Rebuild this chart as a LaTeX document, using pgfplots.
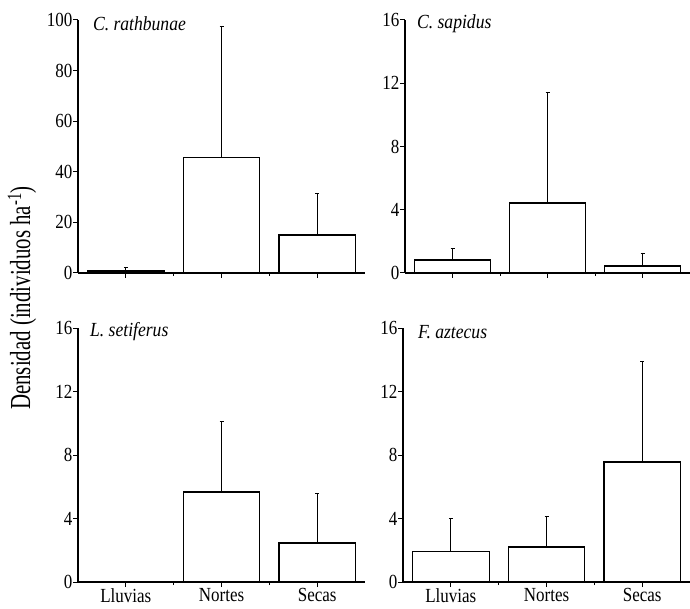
\documentclass[border=0pt]{standalone}
\usepackage{fontspec}
\setmainfont{Liberation Serif}
\newfontfamily\tickfont{Liberation Serif}[FakeStretch=0.85]
\newfontfamily\titlefont{Liberation Serif}[FakeStretch=0.88]
\newfontfamily\labfont{Liberation Serif}[FakeStretch=0.72]
\usepackage{pgfplots}
\pgfplotsset{compat=1.18}
\pgfplotsset{
  panel/.style={
    scale only axis, clip=false,
    xmin=-0.5, xmax=2.5, ymin=0,
    axis x line*=bottom, axis y line*=left,
    axis line style={line width=1.3pt},
    xtick={0,1,2}, minor xtick={0.5,1.5},
    tick align=outside,
    major tick length=5pt, minor tick length=3pt,
    tick style={line width=1pt, black},
    /pgf/number format/assume math mode=true,
    ticklabel style={font=\tickfont\fontsize{20}{21}\selectfont},
    yticklabel style={inner sep=0.5pt},
    xticklabel style={inner sep=1pt},
    ybar, bar width=0.8,
  },
  bars/.style={
    draw=black, fill=white, line width=1.2pt,
    error bars/.cd, y dir=plus, y explicit,
    error bar style={line width=0.8pt, black},
    error mark options={rotate=90, mark size=2pt, line width=0.8pt},
  },
}
\begin{document}
\begin{tikzpicture}[x=1pt,y=1pt]
\useasboundingbox (0,0) rectangle (690,608);
% top left
\begin{axis}[panel, at={(78pt,335pt)}, anchor=south west,
  width=287pt, height=253pt, ymax=100, ytick={0,20,40,60,80,100},
  xticklabels={}]
\addplot[bars] coordinates {(0,0.8) +- (0,1.6) (1,45.5) +- (0,52.1) (2,15.0) +- (0,16.6)};
\node[anchor=west, font=\titlefont\itshape\fontsize{20}{22}\selectfont] at (rel axis cs:0.04,0.985) {C. rathbunae};
\end{axis}
% top right
\begin{axis}[panel, at={(405pt,335pt)}, anchor=south west,
  width=285pt, height=253pt, ymax=16, ytick={0,4,8,12,16},
  xticklabels={}]
\addplot[bars] coordinates {(0,0.82) +- (0,0.76) (1,4.43) +- (0,6.97) (2,0.44) +- (0,0.83)};
\node[anchor=west, font=\titlefont\itshape\fontsize{20}{22}\selectfont] at (rel axis cs:0.03,0.985) {C. sapidus};
\end{axis}
% bottom left
\begin{axis}[panel, at={(78pt,26pt)}, anchor=south west,
  width=287pt, height=254pt, ymax=16, ytick={0,4,8,12,16},
  xticklabels={Lluvias,Nortes,Secas}]
\addplot[bars] coordinates {(1,5.67) +- (0,4.43) (2,2.46) +- (0,3.14)};
\node[anchor=west, font=\titlefont\itshape\fontsize{20}{22}\selectfont] at (rel axis cs:0.03,0.985) {L. setiferus};
\end{axis}
% bottom right
\begin{axis}[panel, at={(403pt,26pt)}, anchor=south west,
  width=287pt, height=254pt, ymax=16, ytick={0,4,8,12,16},
  xticklabels={Lluvias,Nortes,Secas}]
\addplot[bars] coordinates {(0,1.9) +- (0,2.1) (1,2.2) +- (0,1.95) (2,7.56) +- (0,6.34)};
\node[anchor=west, font=\titlefont\itshape\fontsize{20}{22}\selectfont] at (rel axis cs:0.04,0.985) {F. aztecus};
\end{axis}
\node[rotate=90, font=\labfont\fontsize{29}{30}\selectfont] at (22,310) {Densidad (individuos ha\textsuperscript{-1})};
\end{tikzpicture}
\end{document}
